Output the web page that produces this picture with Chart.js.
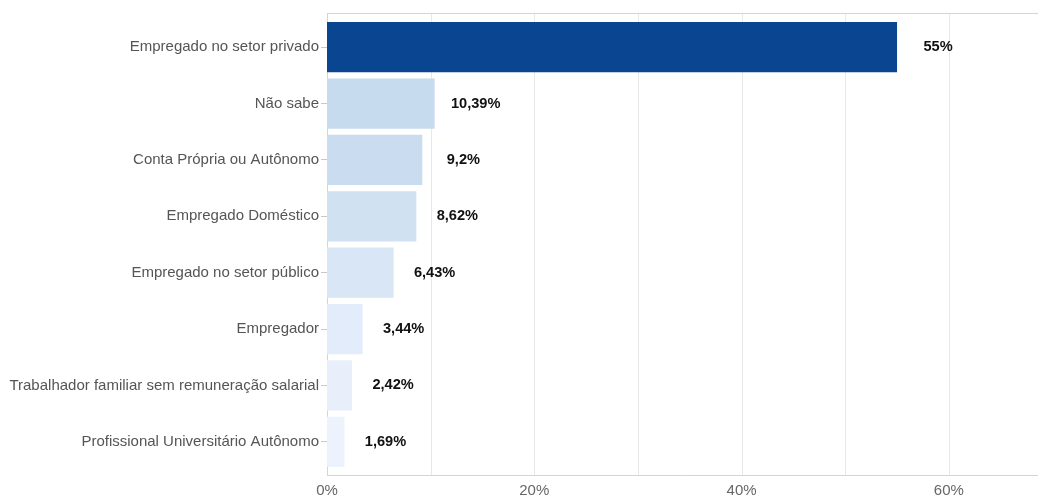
<!DOCTYPE html>
<html lang="pt">
<head>
  <meta charset="UTF-8">
  <title>Ocupação</title>
  <script src="https://cdn.jsdelivr.net/npm/chart.js"></script>
  <style>
    body { margin: 0; background: #fff; }
    #wrap { width: 1038px; height: 496px; position: relative; }
  </style>
</head>
<body>
  <div id="wrap"><canvas id="chart"></canvas></div>
  <script>
    const categories = [
      'Empregado no setor privado',
      'Não sabe',
      'Conta Própria ou Autônomo',
      'Empregado Doméstico',
      'Empregado no setor público',
      'Empregador',
      'Trabalhador familiar sem remuneração salarial',
      'Profissional Universitário Autônomo'
    ];
    const shares = [55, 10.39, 9.2, 8.62, 6.43, 3.44, 2.42, 1.69];
    const barColors = ['#0a4592', '#c7dbef', '#cadcef', '#d0e1f2', '#d9e6f5', '#e3ecfa', '#e8effb', '#edf3fd'];
    const axisMax = 68.6;
    const gridStep = 10;

    const fontFamily = '"Liberation Sans", Arial, sans-serif';
    const fmt = v => String(v).replace('.', ',') + '%';

    // frame: grid, top line, axis lines drawn a bit past the plot area
    const framePlugin = {
      id: 'frame',
      beforeDatasetsDraw(chart) {
        const { ctx, chartArea, scales } = chart;
        const top = chartArea.top - 6, bottom = chartArea.bottom + 5;
        ctx.save();
        ctx.lineWidth = 1;
        ctx.strokeStyle = '#e8e8e8';
        for (let v = gridStep; v <= axisMax; v += gridStep) {
          const x = Math.round(scales.x.getPixelForValue(v)) + 0.5;
          ctx.beginPath(); ctx.moveTo(x, top); ctx.lineTo(x, bottom); ctx.stroke();
        }
        ctx.strokeStyle = '#d4d4d4';
        ctx.beginPath(); ctx.moveTo(chartArea.left, top + 0.5); ctx.lineTo(chartArea.right, top + 0.5); ctx.stroke();
        ctx.beginPath(); ctx.moveTo(chartArea.left, bottom + 0.5); ctx.lineTo(chartArea.right, bottom + 0.5); ctx.stroke();
        const x0 = Math.round(scales.x.getPixelForValue(0)) + 0.5;
        ctx.beginPath(); ctx.moveTo(x0, top); ctx.lineTo(x0, bottom); ctx.stroke();
        ctx.restore();
      },
      afterDatasetsDraw(chart) {
        const { ctx } = chart;
        const meta = chart.getDatasetMeta(0);
        ctx.save();
        ctx.font = 'bold 14.6px ' + fontFamily;
        ctx.fillStyle = '#111';
        ctx.textAlign = 'center';
        ctx.textBaseline = 'middle';
        meta.data.forEach((bar, i) => {
          ctx.fillText(fmt(shares[i]), bar.x + 41, bar.y);
        });
        ctx.restore();
      }
    };

    new Chart(document.getElementById('chart'), {
      type: 'bar',
      data: {
        labels: categories,
        datasets: [{
          data: shares,
          backgroundColor: barColors,
          borderWidth: 0,
          barPercentage: 0.89,
          categoryPercentage: 1
        }]
      },
      options: {
        indexAxis: 'y',
        responsive: true,
        maintainAspectRatio: false,
        animation: false,
        layout: { padding: { top: 19, left: 0, right: 0, bottom: 0 } },
        plugins: { legend: { display: false }, tooltip: { enabled: false } },
        scales: {
          x: {
            min: 0,
            max: axisMax,
            afterFit: s => { s.height = 26; },
            grid: { display: false, drawTicks: false },
            border: { display: false },
            ticks: {
              stepSize: gridStep,
              includeBounds: false,
              maxRotation: 0,
              autoSkip: false,
              padding: 12,
              color: '#666',
              font: { size: 15, family: fontFamily },
              callback: v => (v % 20 === 0 ? v + '%' : '')
            }
          },
          y: {
            afterFit: s => { s.width = 327; },
            grid: { display: true, drawOnChartArea: false, offset: false, tickLength: 6, color: '#c8c8c8' },
            border: { display: false },
            ticks: {
              padding: 2,
              color: '#555',
              font: { size: 15, family: fontFamily }
            }
          }
        }
      },
      plugins: [framePlugin]
    });
  </script>
</body>
</html>
